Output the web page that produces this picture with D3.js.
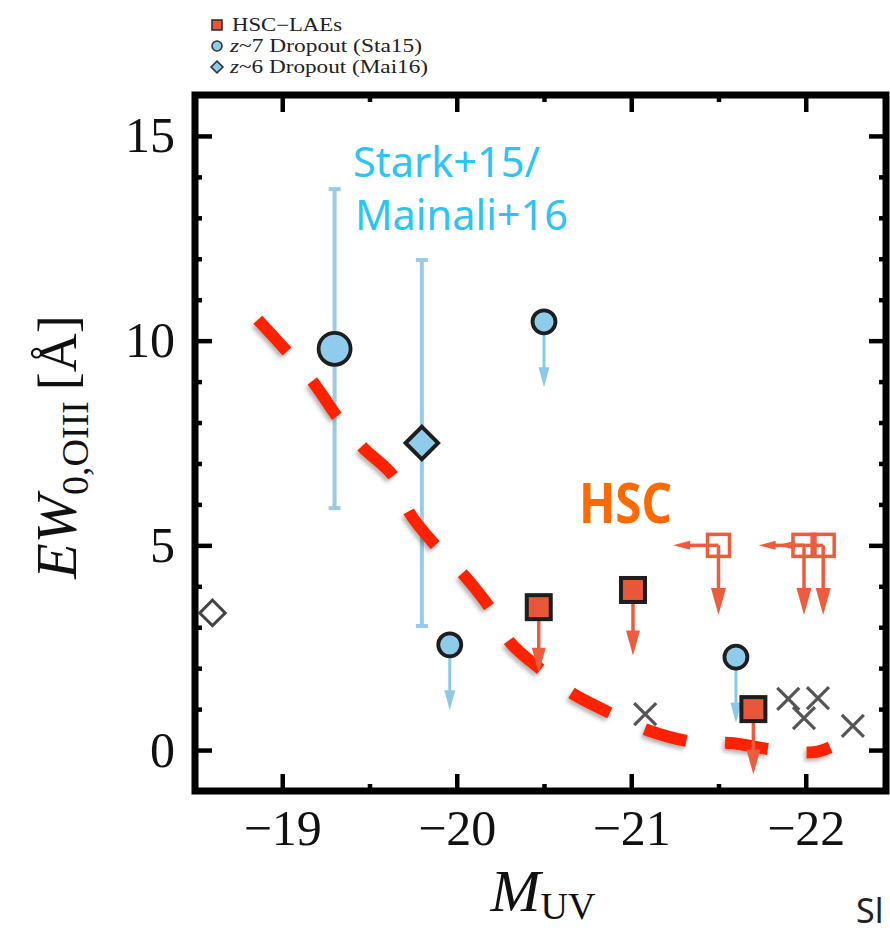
<!DOCTYPE html>
<html>
<head>
<meta charset="utf-8">
<script src="https://cdn.jsdelivr.net/npm/d3@7"></script>
<style>
  html, body { margin: 0; padding: 0; background: #fff; }
  svg { display: block; }
</style>
</head>
<body>
<svg id="chart" width="890" height="928"></svg>
<script>
// ---------------- data ----------------
const xMajorTicks = [-19, -20, -21, -22];
const xMinorTicks = [-19.5, -20.5, -21.5];
const yMajorTicks = [0, 5, 10, 15];
const yMinorTicks = [1, 2, 3, 4, 6, 7, 8, 9, 11, 12, 13, 14];

// z~7 dropouts (Stark+15)
const sta15Muv   = [-19.30, -20.50, -19.96, -21.60];
const sta15EW    = [9.80, 10.46, 2.57, 2.27];
const sta15Upper = [false, true, true, true];
const sta15ErrLo = [5.91, null, null, null];
const sta15ErrHi = [13.70, null, null, null];

// z~6 dropout (Mainali+16)
const mai16Muv   = [-19.80];
const mai16EW    = [7.50];
const mai16ErrLo = [3.03];
const mai16ErrHi = [11.97];

// open diamond
const openDiaMuv = [-18.60];
const openDiaEW  = [3.35];

// HSC-LAEs (upper limits)
const hscMuv = [-20.47, -21.01, -21.70];
const hscEW  = [3.49, 3.91, 1.00];

// HSC open squares (limits in both axes)
const hscLimMuv = [-21.50, -21.99, -22.10];
const hscLimEW  = [5.0, 5.0, 5.0];

// grey crosses
const crossMuv = [-21.08, -21.90, -22.07, -21.99, -22.27];
const crossEW  = [0.88, 1.25, 1.27, 0.78, 0.59];

// hand-drawn model curve (red dashed)
const modelMuv = [-18.86, -19.03, -19.18, -19.32, -19.46, -19.64, -19.73, -19.89, -20.05, -20.19,
                  -20.31, -20.50, -20.66, -20.90, -21.09, -21.35, -21.57, -21.83, -22.05, -22.14];
const modelEW  = [10.51, 9.72, 8.97, 8.11, 7.40, 6.67, 5.79, 4.94, 4.23, 3.47,
                  2.61, 1.91, 1.39, 0.86, 0.49, 0.20, 0.17, 0.00, -0.05, 0.07];

// length of limit arrows (data units)
const upArrowLen = 1.6;
const limDownLen = 1.7;
const limLeftLen = 0.26;

const legendLabels = ["HSC\u2212LAEs", "~7 Dropout (Sta15)", "~6 Dropout (Mai16)"];

// ---------------- setup ----------------
const svg = d3.select("#chart");
const x = d3.scaleLinear().domain([-18.5, -22.46]).range([195, 886]);
const y = d3.scaleLinear().domain([-1, 16]).range([791, 95]);

const BLUE_FILL = "#8fcbea", BLUE_LINE = "#98cbe8", RED_FILL = "#e9573a",
      RED_LINE = "#ee5c3e", DARK = "#1e1e1e";

const defs = svg.append("defs");
const f = defs.append("filter").attr("id", "shadow")
  .attr("x", "-20%").attr("y", "-20%").attr("width", "140%").attr("height", "140%");
f.append("feDropShadow").attr("dx", -2).attr("dy", 3).attr("stdDeviation", 2)
  .attr("flood-color", "#000").attr("flood-opacity", 0.3);

// ---------------- axes ----------------
const serif = "'Liberation Serif', 'DejaVu Serif', serif";
function styleAxis(g, width) {
  g.select(".domain").remove();
  g.selectAll(".tick line").attr("stroke", "#000").attr("stroke-width", width);
  g.selectAll("text").attr("font-family", serif).attr("font-size", 50).attr("fill", "#111");
}
const fmt = d3.format("d");

svg.append("g").attr("transform", "translate(0,791)")
  .call(d3.axisBottom(x).tickValues(xMajorTicks).tickSize(-17).tickPadding(18).tickFormat(fmt))
  .call(g => styleAxis(g, 4.5));
svg.append("g").attr("transform", "translate(0,791)")
  .call(d3.axisBottom(x).tickValues(xMinorTicks).tickSize(-7).tickFormat(""))
  .call(g => styleAxis(g, 4.5));
svg.append("g").attr("transform", "translate(0,95)")
  .call(d3.axisTop(x).tickValues(xMajorTicks).tickSize(-17).tickFormat(""))
  .call(g => styleAxis(g, 4.5));
svg.append("g").attr("transform", "translate(0,95)")
  .call(d3.axisTop(x).tickValues(xMinorTicks).tickSize(-7).tickFormat(""))
  .call(g => styleAxis(g, 4.5));

svg.append("g").attr("transform", "translate(195,0)")
  .call(d3.axisLeft(y).tickValues(yMajorTicks).tickSize(-17).tickPadding(20).tickFormat(fmt))
  .call(g => styleAxis(g, 4.5));
svg.append("g").attr("transform", "translate(195,0)")
  .call(d3.axisLeft(y).tickValues(yMinorTicks).tickSize(-7).tickFormat(""))
  .call(g => styleAxis(g, 4.5));
svg.append("g").attr("transform", "translate(886,0)")
  .call(d3.axisRight(y).tickValues(yMajorTicks).tickSize(-17).tickFormat(""))
  .call(g => styleAxis(g, 4.5));
svg.append("g").attr("transform", "translate(886,0)")
  .call(d3.axisRight(y).tickValues(yMinorTicks).tickSize(-7).tickFormat(""))
  .call(g => styleAxis(g, 4.5));

// frame
svg.append("rect").attr("x", x(-18.5)).attr("y", y(16))
  .attr("width", x(-22.46) - x(-18.5)).attr("height", y(-1) - y(16))
  .attr("fill", "none").attr("stroke", "#000").attr("stroke-width", 7);

// axis titles
const xt = svg.append("text").attr("x", 543).attr("y", 911)
  .attr("text-anchor", "middle").attr("font-family", serif).attr("fill", "#111");
xt.append("tspan").attr("font-size", 60).attr("font-style", "italic").text("M");
xt.append("tspan").attr("font-size", 38).attr("dy", 8).text("UV");

const yt = svg.append("text").attr("transform", "translate(76,447) rotate(-90)")
  .attr("text-anchor", "middle").attr("font-family", serif).attr("fill", "#111");
yt.append("tspan").attr("font-size", 58).attr("font-style", "italic").text("EW");
yt.append("tspan").attr("font-size", 38).attr("dy", 12).text("0,OIII");
yt.append("tspan").attr("font-size", 54).attr("dy", -12).text("\u2009[\u00C5]");

// ---------------- marks ----------------
const plot = svg.append("g");

function arrowDown(g, cx, y0, y1, color, lw, hl, hw) {
  g.append("line").attr("x1", cx).attr("x2", cx).attr("y1", y0).attr("y2", y1 - hl + 2)
    .attr("stroke", color).attr("stroke-width", lw);
  g.append("path").attr("d", `M${cx - hw / 2},${y1 - hl} L${cx + hw / 2},${y1 - hl} L${cx},${y1} Z`)
    .attr("fill", color);
}
function arrowLeft(g, y0, x0, x1, color, lw, hl, hw) {
  g.append("line").attr("y1", y0).attr("y2", y0).attr("x1", x0).attr("x2", x1 + hl - 2)
    .attr("stroke", color).attr("stroke-width", lw);
  g.append("path").attr("d", `M${x1 + hl},${y0 - hw / 2} L${x1 + hl},${y0 + hw / 2} L${x1},${y0} Z`)
    .attr("fill", color);
}

// error bars (under everything)
const errData = [
  ...sta15Muv.map((m, i) => ({ m, lo: sta15ErrLo[i], hi: sta15ErrHi[i] })),
  ...mai16Muv.map((m, i) => ({ m, lo: mai16ErrLo[i], hi: mai16ErrHi[i] }))
].filter(d => d.lo != null);
errData.forEach(d => {
  plot.append("line").attr("x1", x(d.m)).attr("x2", x(d.m)).attr("y1", y(d.lo)).attr("y2", y(d.hi))
    .attr("stroke", BLUE_LINE).attr("stroke-width", 4);
  [d.lo, d.hi].forEach(v => plot.append("line")
    .attr("x1", x(d.m) - 6).attr("x2", x(d.m) + 6).attr("y1", y(v)).attr("y2", y(v))
    .attr("stroke", BLUE_LINE).attr("stroke-width", 4));
});

// red dashed model curve
const line = d3.line().x((d, i) => x(modelMuv[i])).y((d, i) => y(modelEW[i])).curve(d3.curveCatmullRom);
plot.append("path").attr("d", line(modelMuv))
  .attr("fill", "none").attr("stroke", "#ff2400").attr("stroke-width", 12)
  .attr("stroke-dasharray", "43,39").attr("filter", "url(#shadow)");

// grey crosses
crossMuv.forEach((m, i) => {
  const cx = x(m), cy = y(crossEW[i]), s = 11;
  plot.append("path").attr("d", `M${cx - s},${cy - s} L${cx + s},${cy + s} M${cx - s},${cy + s} L${cx + s},${cy - s}`)
    .attr("stroke", "#555").attr("stroke-width", 3.2).attr("fill", "none");
});

// open diamond
openDiaMuv.forEach((m, i) => {
  plot.append("rect").attr("x", -9).attr("y", -9).attr("width", 18).attr("height", 18)
    .attr("transform", `translate(${x(m)},${y(openDiaEW[i])}) rotate(45)`)
    .attr("fill", "none").attr("stroke", "#444").attr("stroke-width", 3);
});

// Sta15 arrows + circles
sta15Muv.forEach((m, i) => {
  if (sta15Upper[i]) arrowDown(plot, x(m), y(sta15EW[i]), y(sta15EW[i] - upArrowLen), "#8cc8e8", 3, 20, 11);
});
sta15Muv.forEach((m, i) => {
  plot.append("circle").attr("cx", x(m)).attr("cy", y(sta15EW[i]))
    .attr("r", sta15Upper[i] ? 11.5 : 16)
    .attr("fill", BLUE_FILL).attr("stroke", DARK).attr("stroke-width", 3.8);
});

// Mai16 diamond
mai16Muv.forEach((m, i) => {
  plot.append("rect").attr("x", -11.5).attr("y", -11.5).attr("width", 23).attr("height", 23)
    .attr("transform", `translate(${x(m)},${y(mai16EW[i])}) rotate(45)`)
    .attr("fill", BLUE_FILL).attr("stroke", DARK).attr("stroke-width", 4);
});

// HSC open squares with limits
hscLimMuv.forEach((m, i) => {
  const cx = x(m), cy = y(hscLimEW[i]);
  arrowLeft(plot, cy, cx, x(m + limLeftLen), RED_LINE, 3.5, 17, 9);
  arrowDown(plot, cx, cy, y(hscLimEW[i] - limDownLen), RED_LINE, 3.5, 27, 15);
});
hscLimMuv.forEach((m, i) => {
  plot.append("rect").attr("x", x(m) - 11).attr("y", y(hscLimEW[i]) - 11)
    .attr("width", 22).attr("height", 22)
    .attr("fill", "none").attr("stroke", RED_LINE).attr("stroke-width", 3.5);
});

// HSC filled squares
hscMuv.forEach((m, i) => {
  arrowDown(plot, x(m), y(hscEW[i]), y(hscEW[i] - upArrowLen), RED_LINE, 3.5, 25, 14);
});
hscMuv.forEach((m, i) => {
  plot.append("rect").attr("x", x(m) - 12).attr("y", y(hscEW[i]) - 12)
    .attr("width", 24).attr("height", 24)
    .attr("fill", RED_FILL).attr("stroke", DARK).attr("stroke-width", 4);
});

// ---------------- annotations ----------------
const sans = "'Noto Sans', 'Open Sans', sans-serif";
svg.append("text").attr("x", 353).attr("y", 177).attr("font-family", sans).attr("font-size", 42)
  .attr("fill", "#2cc4f4").attr("textLength", 187).attr("lengthAdjust", "spacingAndGlyphs").text("Stark+15/");
svg.append("text").attr("x", 355).attr("y", 230).attr("font-family", sans).attr("font-size", 42)
  .attr("fill", "#2cc4f4").attr("textLength", 213).attr("lengthAdjust", "spacingAndGlyphs").text("Mainali+16");
svg.append("text").attr("x", 579).attr("y", 523).attr("font-family", sans).attr("font-size", 55)
  .attr("font-weight", "bold").attr("fill", "#ff6a00")
  .attr("textLength", 93).attr("lengthAdjust", "spacingAndGlyphs").text("HSC");
svg.append("text").attr("x", 856).attr("y", 923).attr("font-family", sans).attr("font-size", 34)
  .attr("fill", "#222").text("Sl");

// ---------------- legend ----------------
const lg = svg.append("g");
lg.append("rect").attr("x", 212).attr("y", 20).attr("width", 10).attr("height", 10)
  .attr("fill", RED_FILL).attr("stroke", "#333").attr("stroke-width", 1.6);
lg.append("circle").attr("cx", 217).attr("cy", 46).attr("r", 5)
  .attr("fill", BLUE_FILL).attr("stroke", "#333").attr("stroke-width", 1.6);
lg.append("rect").attr("x", -4.2).attr("y", -4.2).attr("width", 8.4).attr("height", 8.4)
  .attr("transform", "translate(217,67) rotate(45)")
  .attr("fill", BLUE_FILL).attr("stroke", "#333").attr("stroke-width", 1.6);

const lt1 = lg.append("text").attr("x", 232).attr("y", 31).attr("font-family", serif).attr("font-size", 18)
  .attr("fill", "#222").attr("textLength", 110).attr("lengthAdjust", "spacingAndGlyphs").text(legendLabels[0]);
const lt2 = lg.append("text").attr("x", 230).attr("y", 52).attr("font-family", serif).attr("font-size", 18)
  .attr("fill", "#222").attr("textLength", 192).attr("lengthAdjust", "spacingAndGlyphs");
lt2.append("tspan").attr("font-style", "italic").text("z");
lt2.append("tspan").text(legendLabels[1]);
const lt3 = lg.append("text").attr("x", 230).attr("y", 73).attr("font-family", serif).attr("font-size", 18)
  .attr("fill", "#222").attr("textLength", 198).attr("lengthAdjust", "spacingAndGlyphs");
lt3.append("tspan").attr("font-style", "italic").text("z");
lt3.append("tspan").text(legendLabels[2]);
</script>
</body>
</html>
